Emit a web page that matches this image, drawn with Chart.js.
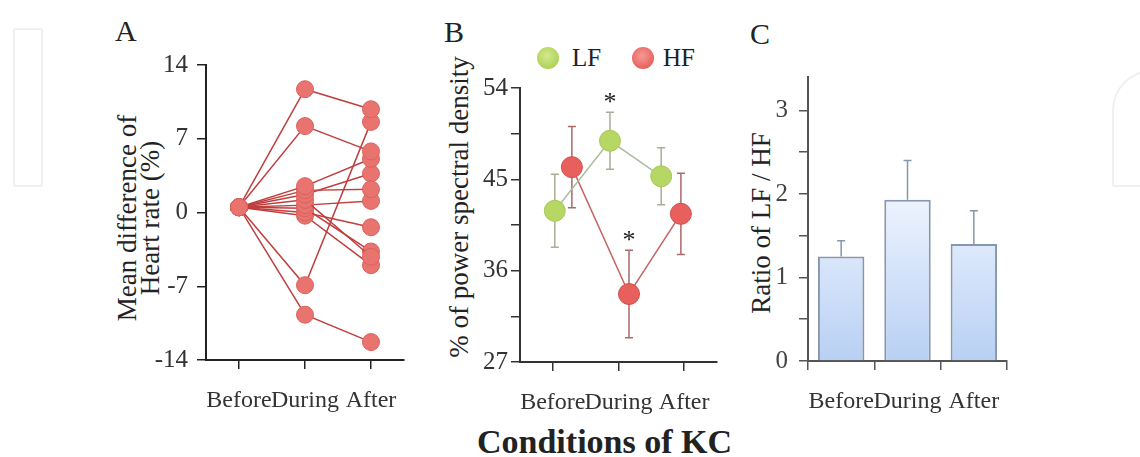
<!DOCTYPE html>
<html>
<head>
<meta charset="utf-8">
<script src="https://cdn.jsdelivr.net/npm/chart.js@4.4.1/dist/chart.umd.min.js"></script>
<style>
  html, body { margin: 0; padding: 0; background: #fff; }
  body { width: 1140px; height: 457px; position: relative; overflow: hidden; font-family: "Liberation Serif", serif; color: #222; }
  canvas { position: absolute; }
  .txt { position: absolute; white-space: nowrap; }
  .letter { font-size: 30px; }
  .ytitle { font-size: 27px; transform: translate(-50%, -50%) rotate(-90deg); line-height: 23px; text-align: center; }
  .legend-dot { position: absolute; width: 22px; height: 22px; border-radius: 50%; }
  .mark { position: absolute; border: 2px solid #f0f0f0; }
</style>
</head>
<body>
<!-- faint watermark shapes -->
<div class="mark" style="left:13px;top:28px;width:26px;height:155px;border-radius:3px;"></div>
<div class="mark" style="left:1112px;top:70px;width:40px;height:113px;border-right:none;border-radius:40px 0 0 3px;"></div>

<div class="txt letter" style="left:115px;top:14px;">A</div>
<div class="txt letter" style="left:444px;top:15px;">B</div>
<div class="txt letter" style="left:750px;top:17px;">C</div>

<div class="txt ytitle" style="left:139px;top:218px;">Mean difference of<br>Heart rate (%)</div>
<div class="txt ytitle" style="left:459px;top:207px;">% of power spectral density</div>
<div class="txt ytitle" style="left:761px;top:223px;">Ratio of LF / HF</div>

<!-- legend for B -->
<div class="legend-dot" style="left:537px;top:47px;background:radial-gradient(circle at 45% 40%, #d2ea8c, #afd25a 70%, #9fc24c);"></div>
<div class="txt" style="left:572px;top:44px;font-size:25px;">LF</div>
<div class="legend-dot" style="left:632px;top:47px;background:radial-gradient(circle at 45% 40%, #f59a96, #e8625e 70%, #d24e4b);"></div>
<div class="txt" style="left:663px;top:44px;font-size:25px;">HF</div>

<div class="txt" style="left:477px;top:423px;font-size:34px;font-weight:bold;">Conditions of KC</div>

<canvas id="chartA" style="left:100px;top:40px;" width="320" height="380"></canvas>
<canvas id="chartB" style="left:430px;top:40px;" width="300" height="380"></canvas>
<canvas id="chartC" style="left:720px;top:40px;" width="310" height="380"></canvas>

<script>
const conditions = ['Before', 'During', 'After'];

// A: individual subjects, % change in heart rate
const hrBefore = [0.5, 0.5, 0.5, 0.5, 0.5, 0.5, 0.5, 0.5, 0.5, 0.5, 0.5, 0.5];
const hrDuring = [11.7, 8.2, -6.9, -9.7, 2.5, 2.1, 1.7, 1.2, 0.7, 0.4, 0.0, -0.3];
const hrAfter = [9.8, 5.8, 8.6, -12.3, 5.1, 2.2, 3.7, -4.2, 1.1, -3.7, -1.4, -5.0];

// B: % of power spectral density (mean, sd) and x position of each marker
const lfMean = [41.9, 48.8, 45.3];
const lfErr = [3.6, 2.8, 2.8];
const lfPos = [0.03, 0.87, 1.65];
const hfMean = [46.2, 33.7, 41.6];
const hfErr = [4.0, 4.3, 4.0];
const hfPos = [0.29, 1.16, 1.95];
const significant = ['LF', 'HF']; // asterisk over the During point of these series

// C: LF/HF ratio
const ratioMean = [1.25, 1.93, 1.40];
const ratioErr = [0.19, 0.47, 0.40];

const FONT = 'Liberation Serif';
const tickFont = { family: FONT, size: 25 };
const catFont = { family: FONT, size: 24 };

function axisStyle(color) {
    return {
        border: { display: true, color: color, width: 2 },
        grid: { drawOnChartArea: false, drawTicks: true, tickLength: 9, color: color, lineWidth: 1.5 },
    };
}

function xTicks(extra) {
    return { font: catFont, color: '#333', padding: 17, maxRotation: 0, minRotation: 0, autoSkip: false, ...extra };
}

function fixSize(w, h) {
    return (scale) => {
        if (w != null) scale.width = w;
        if (h != null) scale.height = h;
    };
}

// vertical error bars, drawn under the markers
const errorBars = {
    id: 'errorBars',
    beforeDatasetsDraw(chart, args, opts) {
        const ctx = chart.ctx;
        const y = chart.scales.y;
        chart.data.datasets.forEach((ds, i) => {
            if (!ds.err) return;
            const meta = chart.getDatasetMeta(i);
            meta.data.forEach((el, j) => {
                const v = ds.data[j];
                const val = typeof v === 'object' ? v.y : v;
                const top = y.getPixelForValue(val + ds.err[j]);
                const bot = opts.upOnly ? y.getPixelForValue(val) : y.getPixelForValue(val - ds.err[j]);
                ctx.save();
                ctx.strokeStyle = ds.errColor;
                ctx.lineWidth = 1.5;
                ctx.beginPath();
                ctx.moveTo(el.x, top);
                ctx.lineTo(el.x, bot);
                ctx.moveTo(el.x - 4, top);
                ctx.lineTo(el.x + 4, top);
                if (!opts.upOnly) {
                    ctx.moveTo(el.x - 4, bot);
                    ctx.lineTo(el.x + 4, bot);
                }
                ctx.stroke();
                ctx.restore();
            });
        });
    },
    afterDatasetsDraw(chart, args, opts) {
        if (!opts.stars) return;
        const ctx = chart.ctx;
        const y = chart.scales.y;
        chart.data.datasets.forEach((ds, i) => {
            if (!opts.stars.includes(ds.label)) return;
            const el = chart.getDatasetMeta(i).data[1];
            const top = y.getPixelForValue(ds.data[1].y + ds.err[1]);
            ctx.save();
            ctx.fillStyle = '#222';
            ctx.font = '26px ' + FONT;
            ctx.textAlign = 'center';
            ctx.textBaseline = 'alphabetic';
            ctx.fillText('*', el.x, top - 2);
            ctx.restore();
        });
    },
};

// ---------- A ----------
const subjectSets = hrBefore.map((b, i) => ({
    data: [b, hrDuring[i], hrAfter[i]],
    borderColor: '#bf3f3f',
    borderWidth: 1.5,
    pointRadius: 8.5,
    pointBackgroundColor: '#e9736e',
    pointBorderColor: '#d9625d',
    pointBorderWidth: 1,
    tension: 0,
}));

new Chart(document.getElementById('chartA'), {
    type: 'line',
    data: { labels: conditions, datasets: subjectSets },
    options: {
        responsive: false,
        animation: false,
        layout: { padding: { top: 25, right: 16, bottom: 0, left: 0 } },
        plugins: { legend: { display: false }, tooltip: { enabled: false } },
        scales: {
            x: {
                ...axisStyle('#222'),
                offset: true,
                ticks: xTicks(),
                afterFit: fixSize(null, 60),
            },
            y: {
                ...axisStyle('#222'),
                min: -14, max: 14,
                ticks: { stepSize: 7, font: tickFont, color: '#333', padding: 9 },
                afterFit: fixSize(106, null),
            },
        },
    },
});

// ---------- B ----------
const toPoints = (pos, vals) => pos.map((x, i) => ({ x: x, y: vals[i] }));

new Chart(document.getElementById('chartB'), {
    type: 'line',
    data: {
        datasets: [
            {
                label: 'LF',
                data: toPoints(lfPos, lfMean),
                err: lfErr,
                errColor: '#a9ae98',
                borderColor: '#adbba0',
                borderWidth: 1.5,
                pointRadius: 10.5,
                pointBackgroundColor: '#b6d764',
                pointBorderColor: '#a6c858',
                pointBorderWidth: 1,
            },
            {
                label: 'HF',
                data: toPoints(hfPos, hfMean),
                err: hfErr,
                errColor: '#a86a6a',
                borderColor: '#c46464',
                borderWidth: 1.5,
                pointRadius: 10.5,
                pointBackgroundColor: '#e8605d',
                pointBorderColor: '#d24c4a',
                pointBorderWidth: 1,
            },
        ],
    },
    options: {
        responsive: false,
        animation: false,
        layout: { padding: { top: 48, right: 13, bottom: 0, left: 0 } },
        plugins: {
            legend: { display: false },
            tooltip: { enabled: false },
            errorBars: { stars: significant },
        },
        scales: {
            x: {
                type: 'linear',
                ...axisStyle('#333'),
                min: -0.5, max: 2.5,
                afterBuildTicks: (s) => { s.ticks = conditions.map((c, i) => ({ value: i })); },
                ticks: xTicks({ callback: (v) => conditions[v] }),
                afterFit: fixSize(null, 58),
            },
            y: {
                ...axisStyle('#333'),
                min: 27, max: 54,
                ticks: {
                    stepSize: 4.5, font: tickFont, color: '#333', padding: 3,
                    callback: (v) => ((v - 27) % 9 === 0 ? v : ''),
                },
                afterFit: fixSize(90, null),
            },
        },
    },
    plugins: [errorBars],
});

// ---------- C ----------
new Chart(document.getElementById('chartC'), {
    type: 'bar',
    data: {
        labels: conditions,
        datasets: [{
            label: 'LF/HF',
            data: ratioMean,
            err: ratioErr,
            errColor: '#8496b0',
            backgroundColor: (ctx) => {
                const area = ctx.chart.chartArea;
                if (!area) return '#d6e4fa';
                const y0 = ctx.chart.scales.y.getPixelForValue(2);
                const g = ctx.chart.ctx.createLinearGradient(0, y0, 0, area.bottom);
                g.addColorStop(0, '#eef4fe');
                g.addColorStop(1, '#b8d0f4');
                return g;
            },
            borderColor: '#8797ad',
            borderWidth: 2,
            borderSkipped: 'bottom',
            barPercentage: 0.7,
            categoryPercentage: 1,
        }],
    },
    options: {
        responsive: false,
        animation: false,
        layout: { padding: { top: 37, right: 23, bottom: 0, left: 0 } },
        plugins: {
            legend: { display: false },
            tooltip: { enabled: false },
            errorBars: { upOnly: true },
        },
        scales: {
            x: {
                ...axisStyle('#555'),
                ticks: xTicks(),
                afterFit: fixSize(null, 59),
            },
            y: {
                ...axisStyle('#555'),
                min: 0, max: 3.4,
                ticks: {
                    stepSize: 0.5, includeBounds: false, font: tickFont, color: '#444', padding: 11,
                    callback: (v) => (Number.isInteger(v) ? v : ''),
                },
                afterFit: fixSize(88, null),
            },
        },
    },
    plugins: [errorBars],
});
</script>
</body>
</html>
